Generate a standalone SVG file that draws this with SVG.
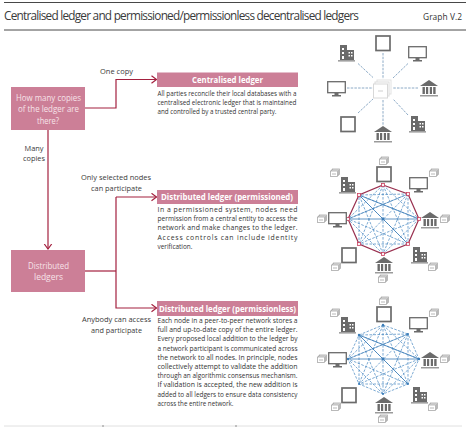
<svg xmlns="http://www.w3.org/2000/svg" width="468" height="427" viewBox="0 0 468 427">
<style>
text{font-family:"Open Sans","Noto Sans","Liberation Sans",sans-serif}
.title{font-size:11.8px;fill:#3a3a3a}
.gn{font-size:8.4px;fill:#333}
.lab{font-size:7.8px;fill:#3a3a3a;text-anchor:middle}
.q{font-size:8.4px;fill:#f7e3e9;text-anchor:middle}
.hd{font-size:8.4px;font-weight:700;fill:#fff;text-anchor:middle}
.bd{font-size:6.9px;fill:#333}
.box{fill:#cc7f97}
.con{fill:none;stroke:#a3213f;stroke-width:1.2}
.ic{fill:none;stroke:#6b6b6b}
.icf{fill:#6b6b6b}
.db{fill:#fff;stroke:#a9a9a9;stroke-width:.8}
.sp{stroke:#6f94b8;stroke-width:.8;stroke-dasharray:2.5 1.2;fill:none}
.msh{stroke:#4485c0;stroke-width:.7;stroke-dasharray:2.6 1.4;fill:none}
.sld{stroke:#3b7cb8;stroke-width:.8;fill:none}
.rule{stroke:#333;stroke-width:.9}
</style>
<defs>
<marker id="ah" markerUnits="userSpaceOnUse" markerWidth="8" markerHeight="10" refX="5.5" refY="4.5" orient="auto">
<path d="M.5 .8L5.5 4.500L.5 8.200" fill="none" stroke="#a3213f" stroke-width="1.200"/>
</marker>
<g id="tablet"><rect x="1" y="1" width="14" height="14.500" class="ic" stroke-width="1.700"/></g>
<g id="monitor"><rect x=".7" y=".7" width="17.600" height="11" class="ic" stroke-width="1.300"/><path d="M7.500 12h4v2h2.500v1.500H5V14h2.500z" class="icf"/></g>
<g id="bank"><path d="M9 0L18 6H0z" class="icf"/><path d="M2.500 7h2.400v7H2.500zM6 7h2.200v7H6zM9.800 7H12v7H9.800zM13.200 7h2.400v7h-2.400z" class="icf"/><path d="M0 15h18v1.500H0z" fill="#9a9a9a"/></g>
<g id="building"><path d="M2 0h7v15H2z" class="icf"/><path d="M9 5h7v10H9z" class="icf"/><path d="M4 3h2v2H4zM4 7h2v2H4zM4 11h2v3H4z" fill="#fff"/><path d="M10.500 7h1.500v1.500h-1.500zM13 7h1.500v1.500H13zM10.500 10h1.500v1.500h-1.500zM13 10h1.500v1.500H13z" fill="#fff"/><path d="M0 15.200h17v1.300H0z" fill="#888"/></g>
<g id="store"><rect x="-2.500" y="-4" width="7" height="5.500" class="db"/><rect x="-3.500" y="-3" width="7" height="5.500" class="db"/><rect x="-4.500" y="-2" width="7" height="5.500" class="db"/><path d="M-3 1h4" stroke="#999" stroke-width=".7"/></g>
<g id="mesh">
<path class="msh" d="M383 185L408 244M383 185L359 244M383 185L383 254M383 185L419 219M383 185L348 219"/>
<path class="msh" d="M408 194L408 244M408 194L383 254M408 194L359 244M408 194L348 219M408 194L359 195"/>
<path class="msh" d="M419 219L383 254M419 219L359 244M419 219L359 195"/>
<path class="msh" d="M408 244L348 219M408 244L359 195M408 244L359 244"/>
<path class="msh" d="M383 254L348 219M383 254L359 195"/>
<path class="msh" d="M359 244L359 195"/>
<path class="sld" d="M348 219H419M359 195L408 244M359 195L419 219"/>
<path class="sld" d="M348 219L408 194" stroke-opacity=".7"/>
<circle cx="383" cy="219" r="1.500" fill="#3b7cb8"/>
</g>
</defs>

<rect width="468" height="427" fill="#fff"/>

<g id="header">
<path class="rule" d="M4 2.500H466M4 30H466"/>
<text class="title" x="4" y="20" textLength="355" lengthAdjust="spacing">Centralised ledger and permissioned/permissionless decentralised ledgers</text>
<text class="gn" x="423" y="20" textLength="39" lengthAdjust="spacing">Graph V.2</text>
</g>

<g id="connectors">
<path class="con" d="M85 108H116V79.500H156.500" marker-end="url(#ah)"/>
<path class="con" d="M48 130V249" marker-end="url(#ah)"/>
<path class="con" d="M85 271H116"/>
<path class="con" d="M116 197H156.500" marker-end="url(#ah)"/>
<path class="con" d="M116 197V308H156.500" marker-end="url(#ah)"/>
<text class="lab" x="116.500" y="74" textLength="33" lengthAdjust="spacingAndGlyphs">One copy</text>
<text class="lab" x="34" y="151" textLength="19" lengthAdjust="spacingAndGlyphs">Many</text>
<text class="lab" x="34" y="161" textLength="22" lengthAdjust="spacingAndGlyphs">copies</text>
<text class="lab" x="116" y="180" textLength="70" lengthAdjust="spacingAndGlyphs">Only selected nodes</text>
<text class="lab" x="116.500" y="191" textLength="51" lengthAdjust="spacingAndGlyphs">can participate</text>
<text class="lab" x="116.500" y="322" textLength="69" lengthAdjust="spacingAndGlyphs">Anybody can access</text>
<text class="lab" x="116.500" y="333" textLength="51" lengthAdjust="spacingAndGlyphs">and participate</text>
</g>

<g id="node-question">
<rect class="box" x="11" y="87" width="74" height="43"/>
<text class="q" x="48.500" y="101" textLength="65" lengthAdjust="spacingAndGlyphs">How many copies</text>
<text class="q" x="48.500" y="112" textLength="61" lengthAdjust="spacingAndGlyphs">of the ledger are</text>
<text class="q" x="48" y="124" textLength="22" lengthAdjust="spacingAndGlyphs">there?</text>
</g>
<g id="node-distributed">
<rect class="box" x="11" y="250" width="74" height="42"/>
<text class="q" x="48.500" y="269" textLength="41" lengthAdjust="spacingAndGlyphs">Distributed</text>
<text class="q" x="48.500" y="280" textLength="29" lengthAdjust="spacingAndGlyphs">ledgers</text>
</g>

<g id="node-centralised">
<rect class="box" x="157" y="72.500" width="141" height="14.500"/>
<text class="hd" x="227.500" y="83" textLength="71" lengthAdjust="spacingAndGlyphs">Centralised ledger</text>
<text class="bd" x="157.500" y="95.500" textLength="139" lengthAdjust="spacingAndGlyphs">All parties reconcile their local databases with a</text>
<text class="bd" x="157.500" y="105" textLength="139" lengthAdjust="spacingAndGlyphs">centralised electronic ledger that is maintained</text>
<text class="bd" x="157.500" y="114" textLength="119" lengthAdjust="spacingAndGlyphs">and controlled by a trusted central party.</text>
</g>

<g id="node-permissioned">
<rect class="box" x="157" y="190" width="141" height="14"/>
<text class="hd" x="227" y="200" textLength="132" lengthAdjust="spacingAndGlyphs">Distributed ledger (permissioned)</text>
<text class="bd" x="157.500" y="211.500" textLength="140" lengthAdjust="spacing">In a permissioned system, nodes need</text>
<text class="bd" x="157.500" y="221" textLength="140" lengthAdjust="spacingAndGlyphs">permission from a central entity to access the</text>
<text class="bd" x="157.500" y="230" textLength="140" lengthAdjust="spacing">network and make changes to the ledger.</text>
<text class="bd" x="157.500" y="239.500" textLength="140" lengthAdjust="spacing">Access controls can include identity</text>
<text class="bd" x="157.500" y="248.500" textLength="35" lengthAdjust="spacingAndGlyphs">verification.</text>
</g>

<g id="node-permissionless">
<rect class="box" x="157" y="301" width="141" height="15"/>
<text class="hd" x="227.500" y="312" textLength="137" lengthAdjust="spacingAndGlyphs">Distributed ledger (permissionless)</text>
<text class="bd" x="157.500" y="323" textLength="140" lengthAdjust="spacingAndGlyphs">Each node in a peer-to-peer network stores a</text>
<text class="bd" x="157.500" y="332" textLength="140" lengthAdjust="spacingAndGlyphs">full and up-to-date copy of the entire ledger.</text>
<text class="bd" x="157.500" y="341" textLength="140" lengthAdjust="spacingAndGlyphs">Every proposed local addition to the ledger by</text>
<text class="bd" x="157.500" y="350.500" textLength="140" lengthAdjust="spacingAndGlyphs">a network participant is communicated across</text>
<text class="bd" x="157.500" y="359.500" textLength="140" lengthAdjust="spacingAndGlyphs">the network to all nodes. In principle, nodes</text>
<text class="bd" x="157.500" y="368.500" textLength="140" lengthAdjust="spacingAndGlyphs">collectively attempt to validate the addition</text>
<text class="bd" x="157.500" y="377.500" textLength="140" lengthAdjust="spacingAndGlyphs">through an algorithmic consensus mechanism.</text>
<text class="bd" x="157.500" y="386.500" textLength="140" lengthAdjust="spacingAndGlyphs">If validation is accepted, the new addition is</text>
<text class="bd" x="157.500" y="396.500" textLength="140" lengthAdjust="spacingAndGlyphs">added to all ledgers to ensure data consistency</text>
<text class="bd" x="157.500" y="405.500" textLength="76" lengthAdjust="spacingAndGlyphs">across the entire network.</text>
</g>

<g id="diagram-centralised">
<path class="sp" d="M358 63.500L373 77.500M383 53V79M408 63.500L393 78M347 88H373M418 88H393M358 113L373 99M383 100V126M408 115L393 99"/>
<rect x="377" y="80" width="14" height="14" fill="#fff" stroke="#e2e2e2"/>
<rect x="375" y="82" width="14" height="14" fill="#fff" stroke="#dcdcdc"/>
<rect x="373.500" y="84" width="14" height="14" fill="#fff" stroke="#d8d8d8"/>
<path d="M378 91h5" stroke="#cfcfcf"/>
<use href="#tablet" x="375" y="35"/>
<use href="#building" x="338" y="45"/>
<use href="#monitor" x="408" y="46"/>
<use href="#monitor" x="327" y="81"/>
<use href="#bank" x="420" y="80"/>
<use href="#tablet" x="340" y="116"/>
<use href="#bank" x="374" y="126"/>
<use href="#building" x="409" y="116"/>
</g>

<g id="diagram-permissioned">
<use href="#mesh"/>
<path d="M383 185L408 194L419 219L408 244L383 254L359 244L348 219L359 195Z" fill="none" stroke="#99304f" stroke-width="1.200"/>
<g fill="#fbeef1" stroke="#c9405f" stroke-width=".8">
<rect x="381.500" y="183.500" width="3" height="3"/><rect x="406.500" y="192.500" width="3" height="3"/><rect x="417.500" y="217.500" width="3" height="3"/><rect x="406.500" y="242.500" width="3" height="3"/><rect x="381.500" y="252.500" width="3" height="3"/><rect x="357.500" y="242.500" width="3" height="3"/><rect x="346.500" y="217.500" width="3" height="3"/><rect x="357.500" y="193.500" width="3" height="3"/>
</g>
<use href="#tablet" x="376" y="166"/>
<use href="#building" x="339" y="177"/>
<use href="#monitor" x="409" y="177"/>
<use href="#monitor" x="328" y="212"/>
<use href="#bank" x="421" y="212"/>
<use href="#tablet" x="341" y="247"/>
<use href="#bank" x="375" y="257"/>
<use href="#building" x="411" y="247"/>
<use href="#store" x="384" y="161"/>
<use href="#store" x="335" y="173"/>
<use href="#store" x="434" y="173"/>
<use href="#store" x="322" y="219"/>
<use href="#store" x="445" y="219"/>
<use href="#store" x="336" y="267"/>
<use href="#store" x="383" y="279"/>
<use href="#store" x="433" y="267"/>
</g>

<g id="diagram-permissionless" transform="translate(0 140)">
<use href="#mesh"/>
<path class="msh" d="M383 185L408 194L419 219L408 244L383 254L359 244L348 219L359 195Z" stroke="#6ea3d3"/>
<g fill="#3b7cb8">
<circle cx="383" cy="185" r="1.200"/><circle cx="408" cy="194" r="1"/><circle cx="419" cy="219" r="1.200"/><circle cx="408" cy="244" r="1"/><circle cx="383" cy="254" r="1"/><circle cx="359" cy="244" r="1"/><circle cx="348" cy="219" r="1.200"/><circle cx="359" cy="195" r="1.200"/>
</g>
<use href="#tablet" x="376" y="166"/>
<use href="#building" x="339" y="177"/>
<use href="#monitor" x="409" y="177"/>
<use href="#monitor" x="328" y="212"/>
<use href="#bank" x="421" y="212"/>
<use href="#tablet" x="341" y="247"/>
<use href="#bank" x="375" y="257"/>
<use href="#building" x="411" y="247"/>
<use href="#store" x="384" y="161"/>
<use href="#store" x="335" y="173"/>
<use href="#store" x="434" y="173"/>
<use href="#store" x="322" y="219"/>
<use href="#store" x="445" y="219"/>
<use href="#store" x="336" y="267"/>
<use href="#store" x="383" y="279"/>
<use href="#store" x="433" y="267"/>
</g>

<g id="footer">
<path d="M4 426H462" stroke="#e0e0e0" stroke-width="1"/>
<path d="M103 425V427M236 425V427" stroke="#777" stroke-width=".8"/>
</g>
</svg>
